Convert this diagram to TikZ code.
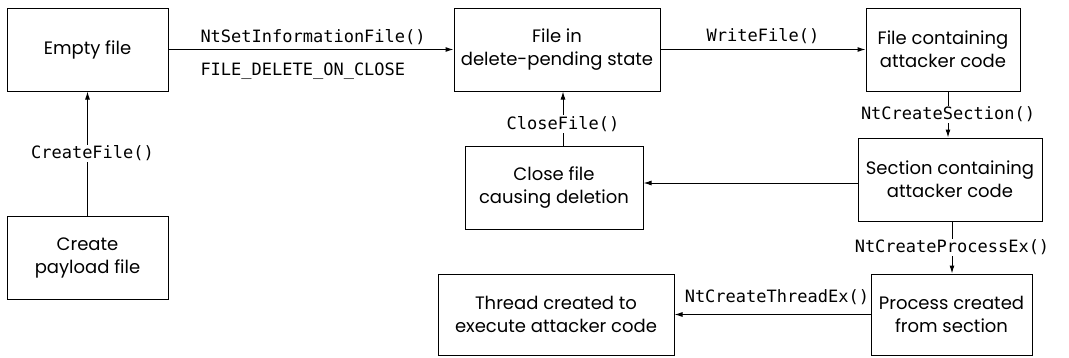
\documentclass[tikz,border=0pt]{standalone}
\usepackage{fontspec}
\setmainfont{Poppins}
\setmonofont{DejaVu Sans Mono}
\usetikzlibrary{arrows.meta}

\begin{document}
\begin{tikzpicture}[x=1pt, y=-1pt, line width=1pt,
  box/.style={draw, align=center, minimum height=83pt, inner sep=0pt, font=\fontsize{18}{23}\selectfont},
  call/.style={font=\ttfamily\fontsize{17}{20}\selectfont, inner sep=1pt},
  flow/.style={-{Latex[length=8pt,width=5pt]}}]
  \useasboundingbox (0,0) rectangle (1069,357);
  % boxes
  \node[box, minimum width=161pt] (empty) at (87.5,49.5) {Empty file};
  \node[box, minimum width=161pt] (payload) at (87.5,257.5) {Create\\payload file};
  \node[box, minimum width=206pt] (pending) at (557,49.5) {File in\\delete-pending state};
  \node[box, minimum width=178pt] (closef) at (554,187.5) {Close file\\causing deletion};
  \node[box, minimum width=154pt] (attfile) at (943,49.5) {File containing\\attacker code};
  \node[box, minimum width=184pt] (section) at (950,179.5) {Section containing\\attacker code};
  \node[box, minimum width=161pt, minimum height=81pt] (process) at (951.5,314.5) {Process created\\from section};
  \node[box, minimum width=236pt, minimum height=81pt] (thread) at (556,314.5) {Thread created to\\execute attacker code};
  \coordinate (cfx) at (563,0);
  \coordinate (csx) at (948,0);
  \coordinate (cpx) at (952,0);
  % calls
  \draw[flow] (payload) -- node[call, fill=white, xshift=5pt] {CreateFile()} (empty);
  \draw[flow] (empty) -- (pending);
  \node[call, anchor=base west] (setinfo) at (199,42) {NtSetInformationFile()};
  \node[call, anchor=base west] (delclose) at (199,75) {FILE\_DELETE\_ON\_CLOSE};
  \draw[flow] (pending) -- node[call, anchor=base, yshift=8pt] {WriteFile()} (attfile);
  \draw[flow] (attfile.south -| csx) -- node[call, fill=white] {NtCreateSection()} (section.north -| csx);
  \draw[flow] (section.west |- 0,183) -- (closef.east |- 0,183);
  \draw[flow] (closef.north -| cfx) -- node[call, fill=white, pos=0.4] {CloseFile()} (pending.south -| cfx);
  \draw[flow] (section.south -| cpx) -- node[call, fill=white] {NtCreateProcessEx()} (process.north -| cpx);
  \draw[flow] (process) -- node[call, anchor=base east, pos=0, yshift=12pt] {NtCreateThreadEx()} (thread);
\end{tikzpicture}
\end{document}
